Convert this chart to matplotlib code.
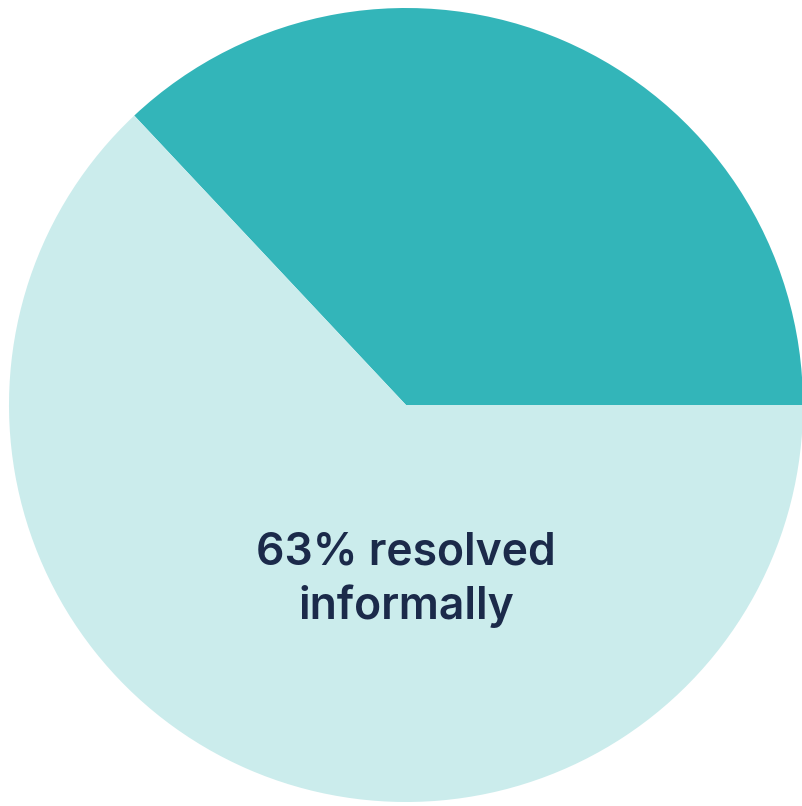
import matplotlib
matplotlib.use("Agg")
import matplotlib.pyplot as plt

labels = ["Resolved formally", "Resolved informally"]
shares = [37, 63]
colors = ["#33b5b9", "#cbecec"]
note = "63% resolved\ninformally"

W, H = 802, 806
fig = plt.figure(figsize=(W / 100, H / 100), dpi=100)
cx, cy, r = 406, 405, 397
ax = fig.add_axes([(cx - r) / W, (H - cy - r) / H, 2 * r / W, 2 * r / H])

ax.pie(shares, colors=colors, startangle=0, counterclock=True, radius=1,
       wedgeprops=dict(linewidth=0))
ax.set_xlim(-1, 1)
ax.set_ylim(-1, 1)
ax.set_aspect("equal")
ax.axis("off")

ax.text(0, -0.44, note, ha="center", va="center", fontsize=32,
        fontweight=600, family=["Inter", "Liberation Sans", "DejaVu Sans"],
        color="#1b2a4a", linespacing=1.3)

fig.savefig("out.png", dpi=100)
